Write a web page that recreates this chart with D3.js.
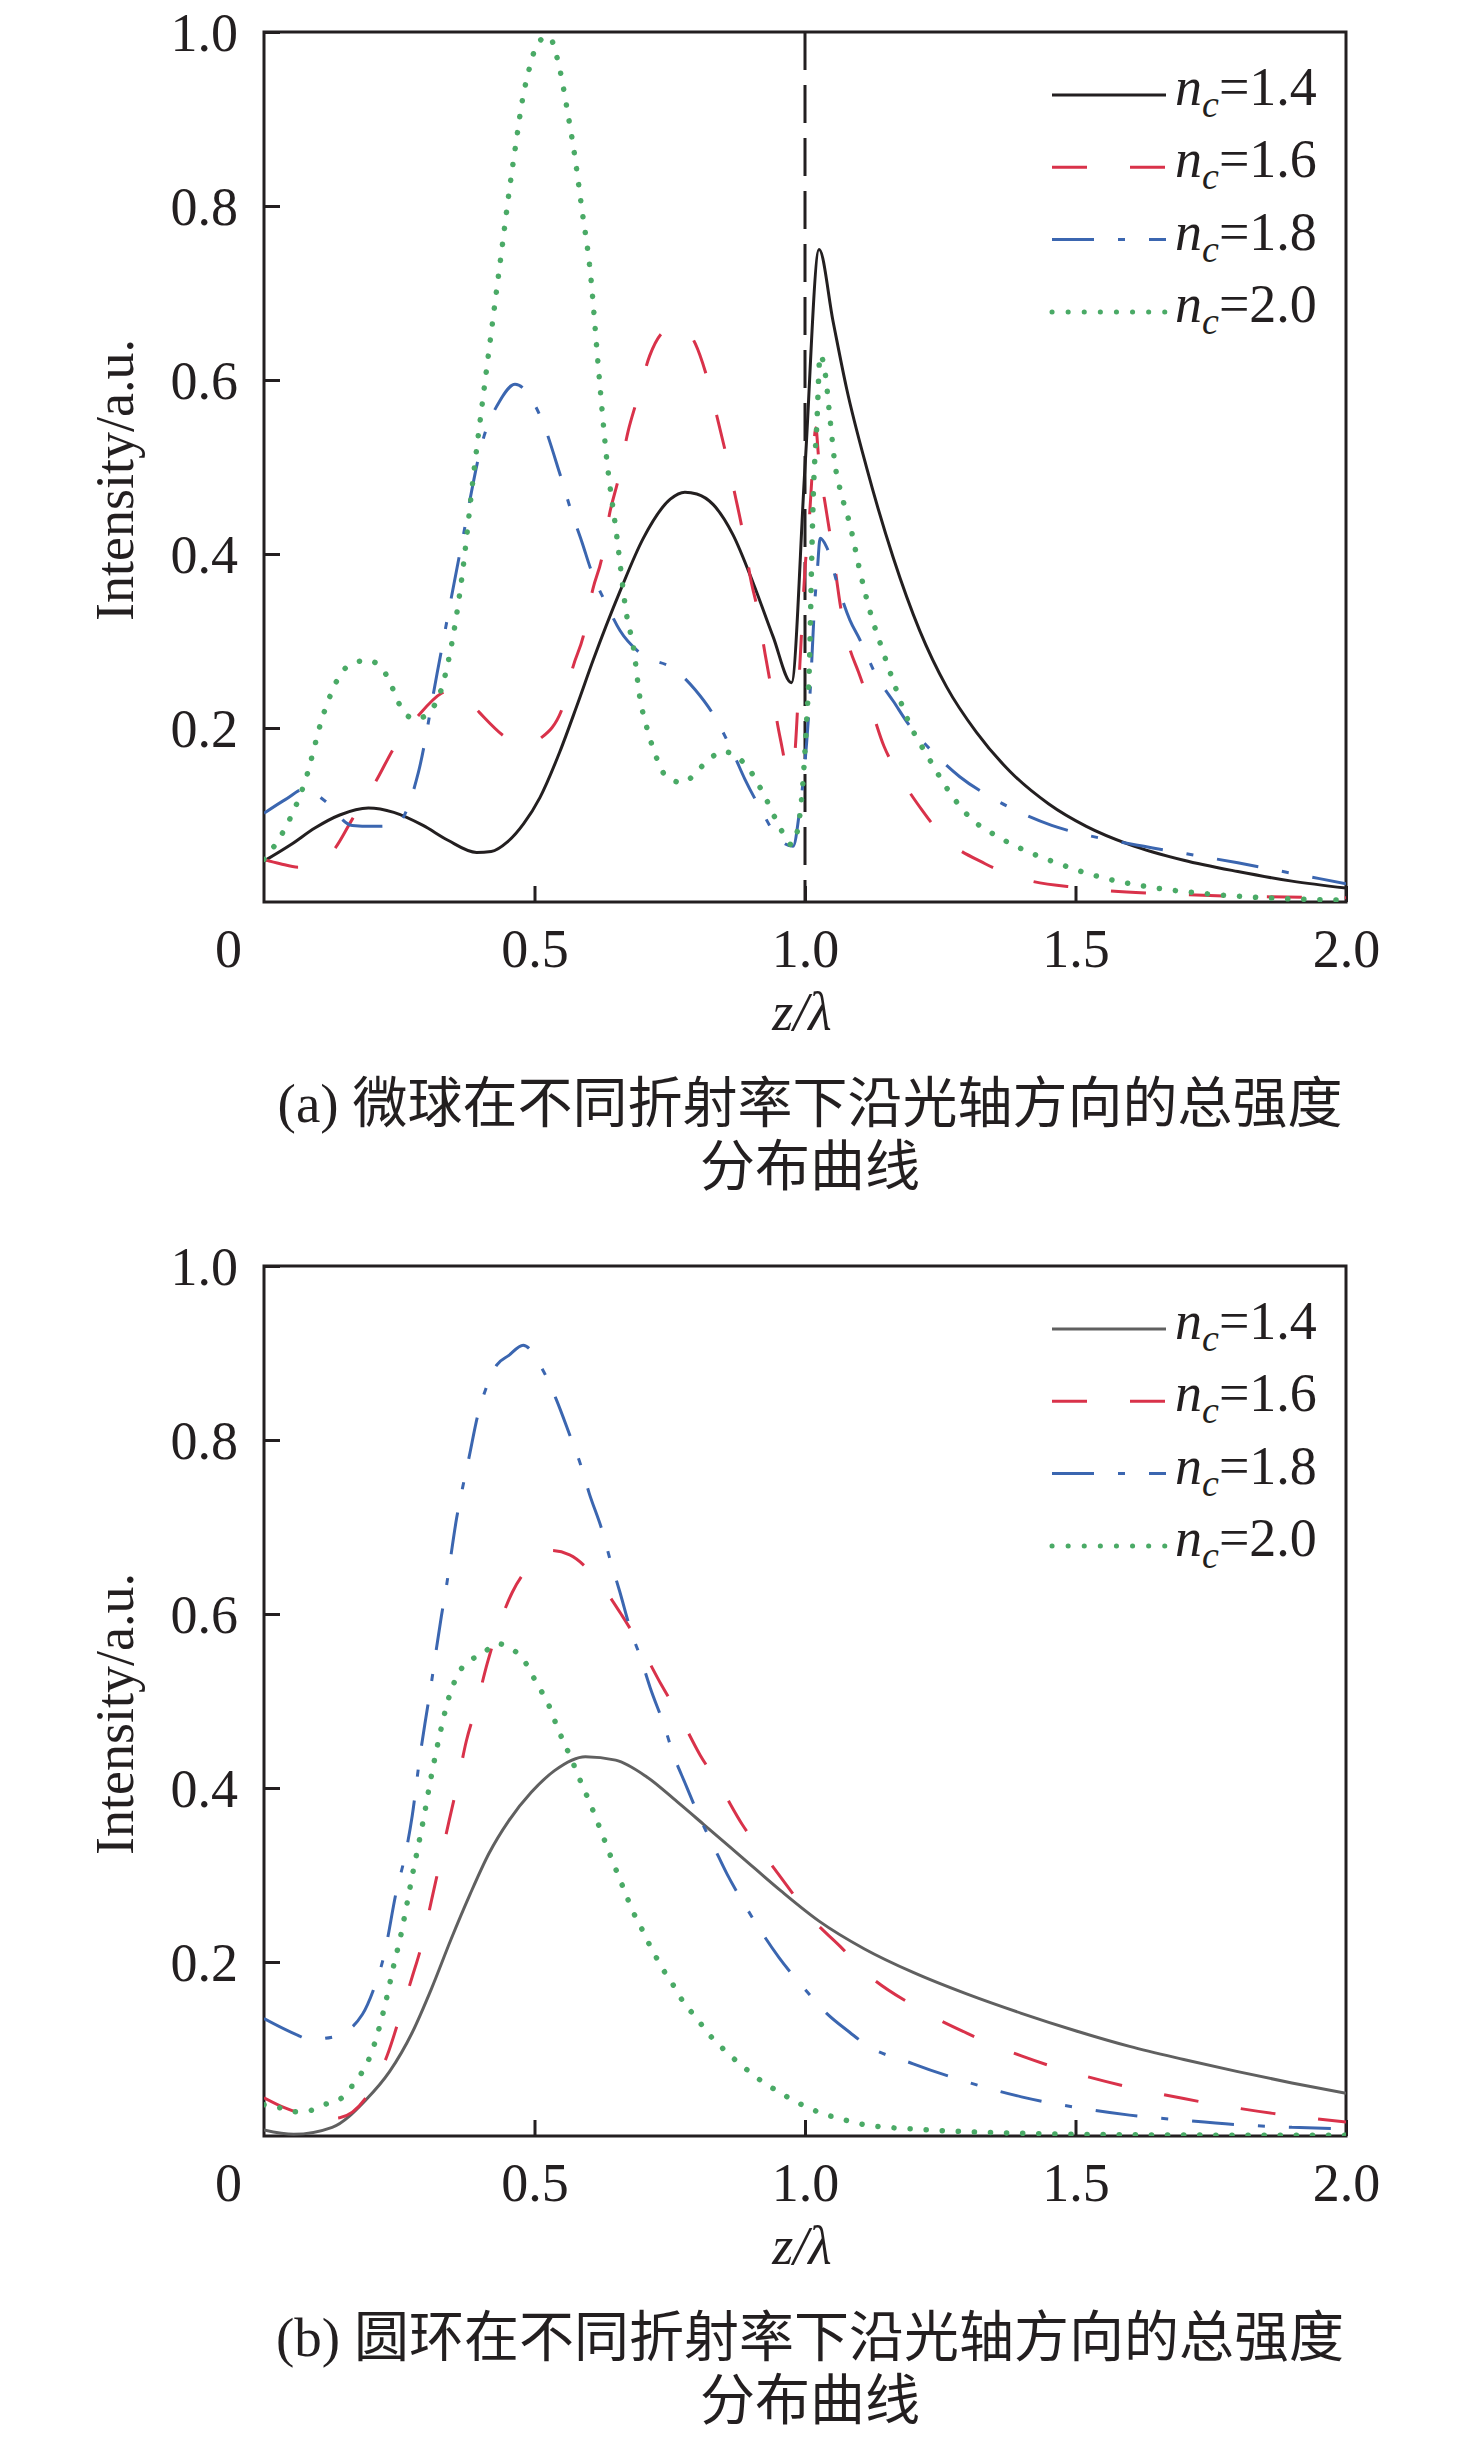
<!DOCTYPE html>
<html>
<head>
<meta charset="utf-8">
<script src="https://cdn.jsdelivr.net/npm/d3@7"></script>
<style>
  body { margin: 0; background: #fff; }
</style>
</head>
<body>
<script>
// ---- data: [z/λ, intensity] ----
// (a) microsphere
const sphere14 = [[0,0.047],[0.05,0.066],[0.094,0.085],[0.14,0.100],[0.193,0.108],[0.24,0.103],[0.294,0.088],[0.34,0.071],[0.393,0.057],[0.42,0.058],[0.45,0.069],[0.48,0.09],[0.51,0.12],[0.547,0.173],[0.578,0.225],[0.609,0.279],[0.658,0.357],[0.701,0.418],[0.751,0.463],[0.778,0.471],[0.80,0.469],[0.83,0.457],[0.867,0.422],[0.904,0.367],[0.941,0.305],[0.975,0.252],[1.0,0.50],[1.026,0.750],[1.052,0.667],[1.077,0.590],[1.114,0.499],[1.163,0.396],[1.212,0.312],[1.262,0.247],[1.317,0.195],[1.379,0.150],[1.45,0.113],[1.52,0.087],[1.6,0.066],[1.7,0.048],[1.8,0.035],[1.9,0.024],[2.0,0.016]];
const sphere16 = [[0,0.049],[0.03,0.044],[0.064,0.040],[0.1,0.047],[0.129,0.06],[0.163,0.095],[0.207,0.139],[0.242,0.179],[0.285,0.214],[0.328,0.240],[0.345,0.244],[0.37,0.237],[0.398,0.218],[0.45,0.188],[0.48,0.180],[0.511,0.188],[0.554,0.227],[0.571,0.270],[0.59,0.305],[0.608,0.36],[0.624,0.394],[0.639,0.447],[0.655,0.486],[0.673,0.541],[0.689,0.576],[0.713,0.628],[0.741,0.657],[0.769,0.663],[0.797,0.642],[0.818,0.605],[0.840,0.551],[0.855,0.512],[0.871,0.467],[0.886,0.422],[0.899,0.373],[0.914,0.331],[0.926,0.286],[0.939,0.241],[0.954,0.189],[0.97,0.150],[0.979,0.160],[0.99,0.267],[1.0,0.383],[1.008,0.44],[1.013,0.49],[1.02,0.545],[1.025,0.512],[1.04,0.447],[1.05,0.408],[1.068,0.331],[1.081,0.295],[1.099,0.264],[1.118,0.231],[1.146,0.179],[1.17,0.150],[1.217,0.105],[1.254,0.076],[1.333,0.044],[1.395,0.028],[1.51,0.016],[1.68,0.009],[1.85,0.006],[2.0,0.005]];
const sphere18 = [[0,0.102],[0.04,0.118],[0.076,0.13],[0.111,0.117],[0.163,0.088],[0.2,0.087],[0.242,0.088],[0.285,0.148],[0.32,0.263],[0.363,0.404],[0.407,0.536],[0.435,0.575],[0.464,0.595],[0.511,0.558],[0.547,0.492],[0.569,0.447],[0.587,0.415],[0.606,0.379],[0.634,0.341],[0.658,0.312],[0.695,0.286],[0.76,0.267],[0.797,0.244],[0.831,0.215],[0.868,0.170],[0.889,0.141],[0.917,0.108],[0.951,0.073],[0.978,0.064],[0.99,0.105],[1.003,0.183],[1.010,0.247],[1.018,0.344],[1.023,0.383],[1.028,0.418],[1.04,0.408],[1.061,0.363],[1.083,0.324],[1.101,0.302],[1.132,0.26],[1.163,0.231],[1.194,0.202],[1.24,0.170],[1.286,0.144],[1.342,0.121],[1.404,0.101],[1.456,0.088],[1.52,0.077],[1.6,0.067],[1.7,0.056],[1.8,0.045],[1.9,0.033],[2.0,0.021]];
const sphere20 = [[0,0.049],[0.033,0.078],[0.076,0.139],[0.111,0.218],[0.155,0.271],[0.193,0.278],[0.224,0.263],[0.259,0.218],[0.28,0.210],[0.305,0.218],[0.328,0.245],[0.363,0.36],[0.389,0.50],[0.415,0.63],[0.442,0.762],[0.453,0.816],[0.465,0.869],[0.478,0.923],[0.49,0.957],[0.507,0.988],[0.526,0.995],[0.545,0.962],[0.562,0.905],[0.575,0.855],[0.587,0.799],[0.603,0.725],[0.618,0.615],[0.633,0.512],[0.652,0.421],[0.67,0.331],[0.683,0.292],[0.695,0.234],[0.707,0.202],[0.723,0.170],[0.744,0.144],[0.775,0.137],[0.8,0.150],[0.821,0.163],[0.849,0.173],[0.874,0.167],[0.895,0.154],[0.926,0.121],[0.951,0.089],[0.975,0.066],[0.987,0.085],[1.003,0.208],[1.009,0.292],[1.012,0.383],[1.015,0.46],[1.022,0.551],[1.028,0.629],[1.037,0.609],[1.046,0.557],[1.055,0.505],[1.068,0.467],[1.083,0.434],[1.102,0.379],[1.123,0.328],[1.142,0.292],[1.163,0.254],[1.191,0.208],[1.231,0.163],[1.262,0.131],[1.305,0.097],[1.354,0.076],[1.404,0.060],[1.456,0.047],[1.55,0.028],[1.65,0.016],[1.75,0.009],[1.88,0.004],[2.0,0.002]];

// (b) ring
const ring14 = [[0,0.007],[0.055,0.002],[0.126,0.010],[0.189,0.042],[0.232,0.074],[0.274,0.119],[0.31,0.170],[0.345,0.225],[0.381,0.278],[0.416,0.325],[0.452,0.362],[0.494,0.395],[0.537,0.420],[0.594,0.436],[0.65,0.432],[0.707,0.413],[0.764,0.384],[0.813,0.358],[0.884,0.320],[0.955,0.282],[1.026,0.247],[1.11,0.215],[1.2,0.188],[1.3,0.163],[1.4,0.141],[1.5,0.121],[1.6,0.103],[1.7,0.088],[1.8,0.074],[1.9,0.061],[2.0,0.049]];
const ring16 = [[0,0.044],[0.04,0.032],[0.08,0.024],[0.12,0.02],[0.14,0.021],[0.186,0.042],[0.228,0.093],[0.253,0.141],[0.274,0.183],[0.292,0.221],[0.31,0.272],[0.324,0.311],[0.342,0.362],[0.356,0.40],[0.374,0.454],[0.392,0.493],[0.413,0.544],[0.43,0.579],[0.459,0.625],[0.491,0.655],[0.53,0.673],[0.565,0.668],[0.611,0.643],[0.661,0.599],[0.696,0.563],[0.735,0.518],[0.767,0.484],[0.806,0.438],[0.842,0.403],[0.884,0.358],[0.92,0.327],[0.97,0.285],[1.008,0.253],[1.065,0.218],[1.11,0.189],[1.2,0.150],[1.3,0.118],[1.4,0.092],[1.5,0.072],[1.6,0.056],[1.7,0.043],[1.8,0.032],[1.9,0.023],[2.0,0.016]];
const ring18 = [[0,0.135],[0.062,0.116],[0.083,0.111],[0.129,0.114],[0.182,0.14],[0.204,0.171],[0.221,0.205],[0.246,0.285],[0.26,0.32],[0.274,0.368],[0.288,0.435],[0.299,0.48],[0.308,0.515],[0.317,0.553],[0.328,0.598],[0.337,0.631],[0.345,0.665],[0.356,0.71],[0.367,0.745],[0.379,0.78],[0.395,0.828],[0.409,0.857],[0.43,0.886],[0.452,0.897],[0.479,0.909],[0.514,0.882],[0.54,0.847],[0.565,0.806],[0.585,0.772],[0.601,0.739],[0.626,0.694],[0.64,0.662],[0.657,0.627],[0.679,0.579],[0.696,0.55],[0.714,0.515],[0.739,0.473],[0.757,0.438],[0.778,0.406],[0.806,0.365],[0.831,0.333],[0.856,0.301],[0.891,0.263],[0.92,0.234],[0.952,0.205],[0.998,0.17],[1.04,0.141],[1.083,0.119],[1.11,0.106],[1.2,0.083],[1.3,0.062],[1.4,0.045],[1.5,0.033],[1.6,0.024],[1.7,0.018],[1.8,0.013],[1.9,0.010],[2.0,0.008]];
const ring20 = [[0,0.036],[0.026,0.033],[0.055,0.028],[0.083,0.029],[0.111,0.036],[0.14,0.042],[0.161,0.056],[0.179,0.071],[0.197,0.093],[0.211,0.12],[0.225,0.154],[0.239,0.194],[0.253,0.231],[0.264,0.266],[0.274,0.299],[0.285,0.333],[0.296,0.368],[0.306,0.403],[0.317,0.438],[0.328,0.47],[0.338,0.496],[0.352,0.522],[0.367,0.539],[0.38,0.546],[0.409,0.557],[0.43,0.566],[0.455,0.561],[0.479,0.548],[0.507,0.517],[0.523,0.5],[0.544,0.467],[0.569,0.432],[0.587,0.405],[0.601,0.385],[0.622,0.352],[0.643,0.318],[0.665,0.284],[0.682,0.258],[0.70,0.236],[0.714,0.218],[0.728,0.202],[0.743,0.186],[0.76,0.17],[0.774,0.155],[0.792,0.141],[0.81,0.127],[0.828,0.113],[0.849,0.1],[0.87,0.088],[0.895,0.075],[0.92,0.063],[0.948,0.052],[0.994,0.036],[1.023,0.028],[1.047,0.023],[1.076,0.018],[1.11,0.013],[1.2,0.008],[1.3,0.005],[1.5,0.002],[1.75,0.001],[2.0,0.001]];

const legendLabels = ["1.4", "1.6", "1.8", "2.0"];
const xTickValues = [0, 0.5, 1.0, 1.5, 2.0];
const xTickLabels = ["0", "0.5", "1.0", "1.5", "2.0"];
const yTickValues = [0.2, 0.4, 0.6, 0.8, 1.0];
const yTickLabels = ["0.2", "0.4", "0.6", "0.8", "1.0"];
const captionsA = ["(a) 微球在不同折射率下沿光轴方向的总强度", "分布曲线"];
const captionsB = ["(b) 圆环在不同折射率下沿光轴方向的总强度", "分布曲线"];

// ---- layout ----
const width = 1476, height = 2443;
const plotLeft = 264, plotWidth = 1082, plotHeight = 870;
const ink = "#231f20";
const serif = "'Liberation Serif', 'Times New Roman', serif";
const captionFont = "'Liberation Serif', 'Noto Sans CJK SC', serif";

// line styles, one per refractive index
const styles = [
  { color: ink, dash: null, width: 3 },
  { color: "#d9324a", dash: "35 43", width: 3 },
  { color: "#3b66b0", dash: "42 24 7 24", width: 3 },
  { color: "#4aaa66", dash: "0.1 16", width: 5.5, cap: "round" },
];

const panels = [
  { top: 32, series: [sphere14, sphere16, sphere18, sphere20], first: ink, divider: true, captions: captionsA },
  { top: 1266, series: [ring14, ring16, ring18, ring20], first: "#606060", divider: false, captions: captionsB },
];

const svg = d3.select("body").append("svg")
  .attr("width", width)
  .attr("height", height)
  .attr("viewBox", [0, 0, width, height]);

panels.forEach((p, pi) => {
  const x = d3.scaleLinear().domain([0, 2]).range([plotLeft, plotLeft + plotWidth]);
  const y = d3.scaleLinear().domain([0, 1]).range([p.top + plotHeight, p.top]);

  const clipId = `clip${pi}`;
  svg.append("clipPath").attr("id", clipId)
    .append("rect")
    .attr("x", plotLeft).attr("y", p.top)
    .attr("width", plotWidth).attr("height", plotHeight);

  // x axis, ticks pointing inward
  const gx = svg.append("g")
    .attr("transform", `translate(0,${p.top + plotHeight})`)
    .call(d3.axisBottom(x)
      .tickValues(xTickValues)
      .tickFormat((d, i) => xTickLabels[i])
      .tickSizeInner(-16)
      .tickSizeOuter(0)
      .tickPadding(27));
  gx.select(".domain").remove();
  gx.selectAll(".tick line").attr("stroke", ink).attr("stroke-width", 3);
  gx.selectAll(".tick text")
    .attr("font-family", serif).attr("font-size", 54).attr("fill", ink);
  gx.selectAll(".tick").filter((d) => d === 0).select("text").attr("x", -36);
  gx.selectAll(".tick").filter((d) => d === 0).select("line").remove();

  // y axis
  const gy = svg.append("g")
    .attr("transform", `translate(${plotLeft},0)`)
    .call(d3.axisLeft(y)
      .tickValues(yTickValues)
      .tickFormat((d, i) => yTickLabels[i])
      .tickSizeInner(-16)
      .tickSizeOuter(0)
      .tickPadding(26));
  gy.select(".domain").remove();
  gy.selectAll(".tick line").attr("stroke", ink).attr("stroke-width", 3);
  gy.selectAll(".tick text")
    .attr("font-family", serif).attr("font-size", 54).attr("fill", ink)
    .attr("dy", "0.34em");

  // frame
  svg.append("rect")
    .attr("x", plotLeft).attr("y", p.top)
    .attr("width", plotWidth).attr("height", plotHeight)
    .attr("fill", "none").attr("stroke", ink).attr("stroke-width", 3);

  // dashed marker at z = λ
  if (p.divider) {
    svg.append("line")
      .attr("x1", x(1)).attr("x2", x(1))
      .attr("y1", y(1)).attr("y2", y(0))
      .attr("stroke", ink).attr("stroke-width", 3)
      .attr("stroke-dasharray", "38 15");
  }

  // curves
  const line = d3.line()
    .x((d) => x(d[0]))
    .y((d) => y(d[1]))
    .curve(d3.curveMonotoneX);

  const curves = svg.append("g").attr("clip-path", `url(#${clipId})`).attr("fill", "none");
  p.series.forEach((s, i) => {
    const st = styles[i];
    curves.append("path")
      .attr("d", line(s))
      .attr("stroke", i === 0 ? p.first : st.color)
      .attr("stroke-width", st.width)
      .attr("stroke-dasharray", st.dash)
      .attr("stroke-linecap", st.cap || "butt")
      .attr("stroke-linejoin", "round");
  });

  // legend
  const legend = svg.append("g").attr("transform", `translate(1052,${p.top + 63})`);
  legendLabels.forEach((lab, i) => {
    const st = styles[i];
    const row = legend.append("g").attr("transform", `translate(0,${i * 72.3})`);
    row.append("line")
      .attr("x1", 0).attr("x2", 114)
      .attr("stroke", i === 0 ? p.first : st.color)
      .attr("stroke-width", i === 3 ? 5 : 3)
      .attr("stroke-dasharray", st.dash)
      .attr("stroke-linecap", st.cap || "butt");
    const t = row.append("text")
      .attr("x", 123).attr("y", 10)
      .attr("font-family", serif).attr("font-size", 54).attr("fill", ink);
    t.append("tspan").attr("font-style", "italic").text("n");
    t.append("tspan").attr("font-style", "italic").attr("font-size", 38).attr("dy", 12).text("c");
    t.append("tspan").attr("dy", -12).text("=" + lab);
  });

  // axis titles
  svg.append("text")
    .attr("x", 802).attr("y", p.top + 998)
    .attr("text-anchor", "middle")
    .attr("font-family", serif).attr("font-size", 54).attr("font-style", "italic")
    .attr("fill", ink)
    .text("z/λ");

  svg.append("text")
    .attr("transform", `translate(133,${p.top + 448}) rotate(-90)`)
    .attr("text-anchor", "middle")
    .attr("font-family", serif).attr("font-size", 54)
    .attr("fill", ink)
    .text("Intensity/a.u.");

  // caption
  p.captions.forEach((c, i) => {
    svg.append("text")
      .attr("x", 810).attr("y", p.top + 1090 + i * 63)
      .attr("text-anchor", "middle")
      .attr("font-family", captionFont).attr("font-size", 55)
      .attr("fill", ink)
      .text(c);
  });
});
</script>
</body>
</html>
